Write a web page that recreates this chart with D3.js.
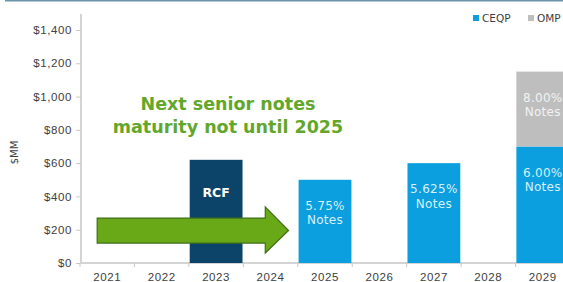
<!DOCTYPE html>
<html>
<head>
<meta charset="utf-8">
<script src="https://cdn.jsdelivr.net/npm/d3@7"></script>
<style>
  body { margin: 0; background: #fff; }
  svg { display: block; font-family: "DejaVu Sans", Verdana, sans-serif; }
</style>
</head>
<body>
<div id="chart"></div>
<script>
const years = ['2021', '2022', '2023', '2024', '2025', '2026', '2027', '2028', '2029'];
const yTicks = [0, 200, 400, 600, 800, 1000, 1200, 1400];

// debt maturities, $MM
const rcf = [0, 0, 620, 0, 0, 0, 0, 0, 0];
const ceqp = [0, 0, 0, 0, 500, 0, 600, 0, 700];
const omp = [0, 0, 0, 0, 0, 0, 0, 0, 450];

const barLabels = [
    { year: '2023', series: 'rcf', lines: ['RCF'] },
    { year: '2025', series: 'ceqp', lines: ['5.75%', 'Notes'] },
    { year: '2027', series: 'ceqp', lines: ['5.625%', 'Notes'] },
    { year: '2029', series: 'ceqp', lines: ['6.00%', 'Notes'] },
    { year: '2029', series: 'omp', lines: ['8.00%', 'Notes'] }
];

const w = 563, h = 282;
const margin = { top: 30, right: -7, bottom: 19, left: 80 };

const colors = { rcf: '#0b4468', ceqp: '#0b9fdf', omp: '#bebebe' };

const svg = d3.select('#chart')
    .append('svg')
    .attr('width', w)
    .attr('height', h);

// thin frame line along the top
svg.append('line')
    .attr('x1', 5).attr('x2', w)
    .attr('y1', 0.5).attr('y2', 0.5)
    .attr('stroke', '#6a94aa')
    .attr('stroke-width', 2);

const x = d3.scaleBand()
    .domain(years)
    .range([margin.left, w - margin.right])
    .paddingInner(0.03)
    .paddingOuter(0.015);

const y = d3.scaleLinear()
    .domain([0, 1400])
    .range([h - margin.bottom, margin.top]);

// y axis
const yAxis = d3.axisLeft(y)
    .tickValues(yTicks)
    .tickFormat(d => '$' + d3.format(',')(d))
    .tickSize(5)
    .tickPadding(4);

const gy = svg.append('g')
    .attr('transform', `translate(${margin.left + 1},0)`)
    .call(yAxis);
gy.select('.domain').attr('stroke', '#d4d4d4').attr('stroke-width', 2)
    .attr('d', `M0,${y(0)}V${margin.top - 16}`);
gy.selectAll('.tick line').attr('stroke', '#c8c8c8');
gy.selectAll('.tick text').attr('fill', '#404040')
    .style('font-size', '11.5px').style('letter-spacing', '0.6px');

svg.append('text')
    .attr('transform', `translate(18,${(y(600) + y(800)) / 2 + 6}) rotate(-90)`)
    .attr('text-anchor', 'middle')
    .attr('fill', '#404040')
    .style('font-size', '10px')
    .text('$MM');

// x axis, ticks between the bands
const xAxis = d3.axisBottom(x).tickSize(0).tickPadding(10);
const gx = svg.append('g')
    .attr('transform', `translate(0,${y(0)})`)
    .call(xAxis);
gx.select('.domain').attr('stroke', '#d4d4d4').attr('stroke-width', 2)
    .attr('d', `M${margin.left},0H${w}`);
gx.selectAll('.tick text').attr('fill', '#404040')
    .style('font-size', '11.5px').style('letter-spacing', '0.6px');
gx.selectAll('.sep')
    .data(years)
    .enter()
    .append('line')
    .attr('x1', d => x(d) - x.step() * x.paddingInner() / 2)
    .attr('x2', d => x(d) - x.step() * x.paddingInner() / 2)
    .attr('y1', 0).attr('y2', 4)
    .attr('stroke', '#c8c8c8');

// stacked bars
const rows = years.map((yr, i) => ({ year: yr, rcf: rcf[i], ceqp: ceqp[i], omp: omp[i] }));
const stack = d3.stack().keys(['rcf', 'ceqp', 'omp'])(rows);

svg.append('g')
    .selectAll('g')
    .data(stack)
    .enter()
    .append('g')
    .attr('fill', d => colors[d.key])
    .selectAll('rect')
    .data(d => d.filter(s => s[1] > s[0]))
    .enter()
    .append('rect')
    .attr('x', d => x(d.data.year))
    .attr('width', x.bandwidth())
    .attr('y', d => y(d[1]))
    .attr('height', d => y(d[0]) - y(d[1]));

// labels inside the bars
const seriesIndex = { rcf: 0, ceqp: 1, omp: 2 };
barLabels.forEach(l => {
    const i = years.indexOf(l.year);
    const seg = stack[seriesIndex[l.series]][i];
    const top = y(seg[1]);
    const offset = l.series === 'rcf' ? 37 : (l.series === 'omp' ? 30 : 30);
    const t = svg.append('text')
        .attr('x', x(l.year) + x.bandwidth() / 2)
        .attr('y', top + offset)
        .attr('text-anchor', 'middle')
        .attr('fill', l.series === 'rcf' ? '#ffffff' : (l.series === 'omp' ? '#f2f2f2' : '#d8f0fc'))
        .style('font-size', l.series === 'rcf' ? '12.5px' : '12px')
        .style('letter-spacing', l.series === 'rcf' ? '0px' : '0.3px')
        .style('font-weight', l.series === 'rcf' ? 'bold' : 'normal');
    l.lines.forEach((line, j) => {
        t.append('tspan')
            .attr('x', x(l.year) + x.bandwidth() / 2)
            .attr('dy', j === 0 ? 0 : 14.5)
            .text(line);
    });
});

// legend
const legend = svg.append('g').attr('transform', 'translate(473,20)');
[['CEQP', colors.ceqp, 0], ['OMP', colors.omp, 55]].forEach(([name, c, dx]) => {
    legend.append('rect').attr('x', dx).attr('y', -5).attr('width', 6).attr('height', 6).attr('fill', c);
    legend.append('text').attr('x', dx + 9).attr('y', 1.5)
        .attr('fill', '#404040').style('font-size', '10.5px').text(name);
});

// annotation arrow
const ax0 = x('2021') + x.bandwidth() * 0.31;
const axBase = x('2024') + x.bandwidth() * 0.4;
const axTip = x('2024') + x.bandwidth() * 0.84;
const bodyTop = y(270), bodyBot = y(120), headTop = y(337), headBot = y(60);
const mid = (bodyTop + bodyBot) / 2;
svg.append('path')
    .attr('d', `M${ax0},${bodyTop}H${axBase}V${headTop}L${axTip},${mid}L${axBase},${headBot}V${bodyBot}H${ax0}Z`)
    .attr('fill', '#69a816')
    .attr('stroke', '#3f6e1c')
    .attr('stroke-width', 1.2);

// callout text
svg.append('text')
    .attr('x', 228)
    .attr('y', y(920))
    .attr('text-anchor', 'middle')
    .attr('fill', '#62a72a')
    .style('font-size', '17.5px')
    .style('font-weight', 'bold')
    .selectAll('tspan')
    .data(['Next senior notes', 'maturity not until 2025'])
    .enter()
    .append('tspan')
    .attr('x', 228)
    .attr('dy', (d, i) => i === 0 ? 0 : 23)
    .text(d => d);
</script>
</body>
</html>
